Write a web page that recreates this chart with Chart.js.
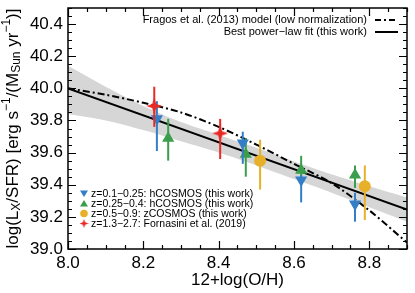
<!DOCTYPE html>
<html><head><meta charset="utf-8">
<script src="https://cdn.jsdelivr.net/npm/chart.js@4/dist/chart.umd.min.js"></script>
<style>html,body{margin:0;padding:0;background:#fff;overflow:hidden}</style>
</head><body>
<canvas id="c" width="415" height="293"></canvas>
<script>
// ---- data ----
const xTicks = [8.0, 8.2, 8.4, 8.6, 8.8];
const yTicks = [39.0, 39.2, 39.4, 39.6, 39.8, 40.0, 40.2, 40.4];

const bandX     = [8.0, 8.1, 8.2, 8.3, 8.4, 8.5, 8.6, 8.7, 8.8, 8.9];
const bandUpper = [40.14, 40.01, 39.89, 39.79, 39.71, 39.63, 39.545, 39.465, 39.39, 39.32];
const bandLower = [39.84, 39.80, 39.74, 39.67, 39.60, 39.52, 39.435, 39.35, 39.26, 39.17];

const fitX = [8.0, 8.9];
const fitY = [40.0, 39.245];

const fragosX = [8.0, 8.1, 8.2, 8.3, 8.4, 8.5, 8.6, 8.7, 8.8, 8.9];
const fragosY = [40.0, 39.96, 39.91, 39.85, 39.76, 39.65, 39.53, 39.41, 39.24, 39.04];

const blueX  = [8.236, 8.464, 8.619, 8.762];
const blueY  = [39.81, 39.66, 39.43, 39.28];
const blueLo = [39.61, 39.53, 39.29, 39.17];
const blueHi = [39.92, 39.73, 39.46, 39.35];

const greenX  = [8.266, 8.472, 8.619, 8.762];
const greenY  = [39.69, 39.59, 39.49, 39.46];
const greenLo = [39.55, 39.45, 39.40, 39.38];
const greenHi = [39.81, 39.69, 39.58, 39.52];

const yellowX  = [8.51, 8.788];
const yellowY  = [39.55, 39.39];
const yellowLo = [39.37, 39.18];
const yellowHi = [39.68, 39.52];

const redX  = [8.229, 8.404];
const redY  = [39.89, 39.72];
const redLo = [39.76, 39.56];
const redHi = [40.01, 39.81];

const legendTop = ['Fragos et al. (2013) model (low normalization)', 'Best power\u2212law fit (this work)'];
const legendBottom = ['z=0.1\u22120.25: hCOSMOS (this work)', 'z=0.25\u22120.4: hCOSMOS (this work)',
                      'z=0.5\u22120.9: zCOSMOS (this work)', 'z=1.3\u22122.7: Fornasini et al. (2019)'];

// ---- styles ----
const BLUE = 'rgb(52,126,200)', GREEN = 'rgb(58,158,76)', YELLOW = 'rgb(232,176,40)', RED = 'rgb(232,42,38)';
const FONT = '"Liberation Sans", Arial, Helvetica, sans-serif';

function pts(xs, ys) { return xs.map((x, i) => ({x: x, y: ys[i]})); }

function starCanvas(size, color) {
  const c = document.createElement('canvas');
  c.width = size; c.height = size;
  const g = c.getContext('2d');
  const m = size / 2, w = size * 0.13;
  g.fillStyle = color;
  g.beginPath();
  g.moveTo(m, 0); g.lineTo(m + w, m - w); g.lineTo(size, m); g.lineTo(m + w, m + w);
  g.lineTo(m, size); g.lineTo(m - w, m + w); g.lineTo(0, m); g.lineTo(m - w, m - w);
  g.closePath(); g.fill();
  return c;
}
const redStar = starCanvas(16, RED);
const redStarSmall = starCanvas(9, RED);

const errorBars = {
  id: 'errorBars',
  beforeDatasetDraw(chart, args) {
    const ds = chart.data.datasets[args.index];
    if (!ds.errLo) return;
    const ctx = chart.ctx, xs = chart.scales.x, ys = chart.scales.y;
    ctx.save();
    ctx.strokeStyle = ds.barColor; ctx.lineWidth = 2;
    ds.data.forEach((p, i) => {
      const px = xs.getPixelForValue(p.x);
      ctx.beginPath();
      ctx.moveTo(px, ys.getPixelForValue(ds.errLo[i]));
      ctx.lineTo(px, ys.getPixelForValue(ds.errHi[i]));
      ctx.stroke();
    });
    ctx.restore();
  }
};

function rich(ctx, parts, big, small) {
  let w = 0;
  parts.forEach(p => { ctx.font = (p[1] ? small : big) + 'px ' + FONT; w += ctx.measureText(p[0]).width; });
  let x = -w / 2;
  parts.forEach(p => {
    ctx.font = (p[1] ? small : big) + 'px ' + FONT;
    const dy = p[1] === 'sub' ? 4 : (p[1] === 'sup' ? -6 : 0);
    ctx.fillText(p[0], x, dy);
    x += ctx.measureText(p[0]).width;
  });
}

const decor = {
  id: 'decor',
  afterDatasetsDraw(chart) {
    const ctx = chart.ctx, a = chart.chartArea, xs = chart.scales.x, ys = chart.scales.y;
    ctx.save();
    ctx.strokeStyle = '#000';
    ctx.lineWidth = 1.5;
    ctx.strokeRect(a.left, a.top, a.right - a.left, a.bottom - a.top);
    ctx.lineWidth = 1.2;
    for (let k = 0; k <= 18; k++) {
      const v = 8.0 + k * 0.05;
      const px = Math.round(xs.getPixelForValue(v)) + 0.5;
      const len = (k % 4 === 0) ? 8 : 4;
      ctx.beginPath();
      ctx.moveTo(px, a.bottom); ctx.lineTo(px, a.bottom - len);
      ctx.moveTo(px, a.top); ctx.lineTo(px, a.top + len);
      ctx.stroke();
    }
    for (let k = 0; k <= 30; k++) {
      const v = 39.0 + k * 0.05;
      const py = Math.round(ys.getPixelForValue(v)) + 0.5;
      const len = (k % 4 === 0) ? 8 : 4;
      ctx.beginPath();
      ctx.moveTo(a.left, py); ctx.lineTo(a.left + len, py);
      ctx.moveTo(a.right, py); ctx.lineTo(a.right - len, py);
      ctx.stroke();
    }
    ctx.restore();
  },
  afterDraw(chart) {
    const ctx = chart.ctx, a = chart.chartArea;
    ctx.save();
    ctx.fillStyle = '#000';
    ctx.translate(13, (a.top + a.bottom) / 2);
    ctx.rotate(-Math.PI / 2);
    ctx.textBaseline = 'middle';
    rich(ctx, [['log(L'], ['X', 'sub'], ['/SFR) [erg s'], ['\u22121', 'sup'], ['/(M'], ['Sun', 'sub'], [' yr'], ['\u22121', 'sup'], [')]']], 17, 12);
    ctx.restore();

    ctx.save();
    ctx.font = '11px ' + FONT;
    ctx.textAlign = 'right'; ctx.textBaseline = 'middle'; ctx.fillStyle = '#000';
    const tr = 367, ly = [20, 32];
    legendTop.forEach((t, i) => ctx.fillText(t, tr, ly[i]));
    ctx.strokeStyle = '#000'; ctx.lineWidth = 2;
    ctx.setLineDash([6, 3, 2, 3]);
    ctx.beginPath(); ctx.moveTo(375, ly[0]); ctx.lineTo(398, ly[0]); ctx.stroke();
    ctx.setLineDash([]);
    ctx.beginPath(); ctx.moveTo(375, ly[1]); ctx.lineTo(398, ly[1]); ctx.stroke();
    ctx.restore();

    ctx.save();
    ctx.font = '10.5px ' + FONT;
    ctx.textAlign = 'left'; ctx.textBaseline = 'middle'; ctx.fillStyle = '#000';
    const by = [193.5, 203.5, 213.5, 223.5], mx = 84, tx = 91;
    legendBottom.forEach((t, i) => { ctx.fillStyle = '#000'; ctx.fillText(t, tx, by[i] + 0.5); });
    ctx.fillStyle = BLUE;
    ctx.beginPath(); ctx.moveTo(mx - 4, by[0] - 3); ctx.lineTo(mx + 4, by[0] - 3); ctx.lineTo(mx, by[0] + 3.5); ctx.closePath(); ctx.fill();
    ctx.fillStyle = GREEN;
    ctx.beginPath(); ctx.moveTo(mx - 4, by[1] + 3); ctx.lineTo(mx + 4, by[1] + 3); ctx.lineTo(mx, by[1] - 3.5); ctx.closePath(); ctx.fill();
    ctx.fillStyle = YELLOW;
    ctx.beginPath(); ctx.arc(mx, by[2], 3.8, 0, Math.PI * 2); ctx.fill();
    ctx.drawImage(redStarSmall, mx - 4.5, by[3] - 4.5);
    ctx.restore();
  }
};

const scatterBase = { type: 'scatter', showLine: false, pointBorderWidth: 0 };

new Chart(document.getElementById('c'), {
  data: {
    datasets: [
      { type: 'line', data: pts(bandX, bandUpper), borderWidth: 0, pointRadius: 0, fill: '+1',
        backgroundColor: 'rgb(214,214,214)', tension: 0.3, order: 20 },
      { type: 'line', data: pts(bandX, bandLower), borderWidth: 0, pointRadius: 0, fill: false,
        tension: 0.3, order: 21 },
      { type: 'line', data: pts(fitX, fitY), borderColor: '#000', borderWidth: 2, pointRadius: 0, fill: false, order: 10 },
      { type: 'line', data: pts(fragosX, fragosY), borderColor: '#000', borderWidth: 2, pointRadius: 0, fill: false,
        borderDash: [7, 3, 2, 3], tension: 0.3, order: 9 },
      Object.assign({}, scatterBase, { data: pts(greenX, greenY), errLo: greenLo, errHi: greenHi, barColor: GREEN,
        pointStyle: 'triangle', pointRadius: 7, backgroundColor: GREEN, borderColor: GREEN, order: 4 }),
      Object.assign({}, scatterBase, { data: pts(blueX, blueY), errLo: blueLo, errHi: blueHi, barColor: BLUE,
        pointStyle: 'triangle', rotation: 180, pointRadius: 7, backgroundColor: BLUE, borderColor: BLUE, order: 3 }),
      Object.assign({}, scatterBase, { data: pts(yellowX, yellowY), errLo: yellowLo, errHi: yellowHi, barColor: YELLOW,
        pointStyle: 'circle', pointRadius: 6, backgroundColor: YELLOW, borderColor: YELLOW, order: 2 }),
      Object.assign({}, scatterBase, { data: pts(redX, redY), errLo: redLo, errHi: redHi, barColor: RED,
        pointStyle: redStar, pointRadius: 8, backgroundColor: RED, borderColor: RED, order: 1 })
    ]
  },
  options: {
    responsive: false, animation: false, devicePixelRatio: 1,
    layout: { padding: { top: 1, right: 4, left: 0, bottom: 0 } },
    plugins: { legend: { display: false }, tooltip: { enabled: false } },
    scales: {
      x: { type: 'linear', min: 8.0, max: 8.9,
        afterBuildTicks: s => { s.ticks = xTicks.map(v => ({value: v})); },
        afterFit: s => { s.height = 44; s.paddingLeft = 0; s.paddingRight = 0; },
        grid: { display: false, drawTicks: false }, border: { display: false },
        ticks: { padding: 4, color: '#000', font: { family: FONT, size: 17 }, callback: v => v.toFixed(1), maxRotation: 0 },
        title: { display: true, text: '12+log(O/H)', color: '#000', font: { family: FONT, size: 17 }, padding: { top: 0, bottom: 2 } } },
      y: { type: 'linear', min: 39.0, max: 40.5,
        afterBuildTicks: s => { s.ticks = yTicks.map(v => ({value: v})); },
        afterFit: s => { s.width = 68; s.paddingTop = 0; s.paddingBottom = 0; },
        grid: { display: false, drawTicks: false }, border: { display: false },
        ticks: { padding: 5, color: '#000', font: { family: FONT, size: 17 }, callback: v => v.toFixed(1) } }
    }
  },
  plugins: [errorBars, decor]
});
</script>
</body></html>
